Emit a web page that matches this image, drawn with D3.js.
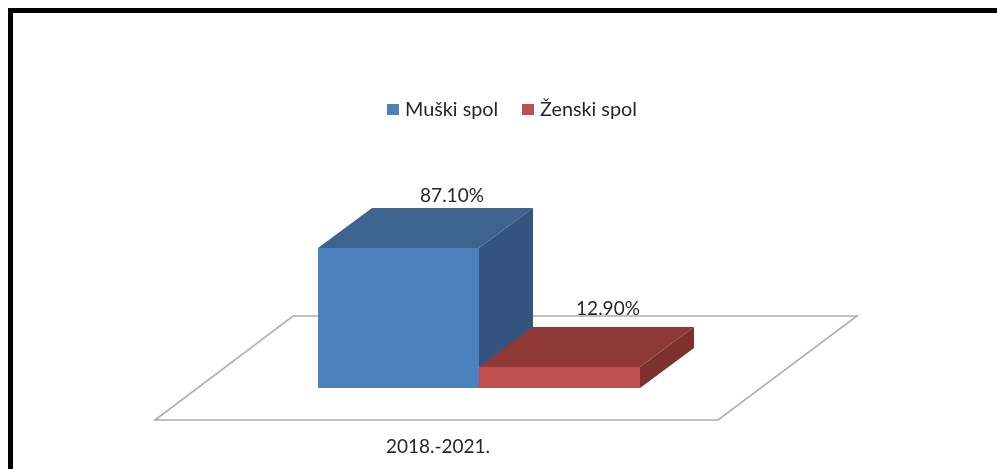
<!DOCTYPE html>
<html><head><meta charset="utf-8">
<script src="https://cdn.jsdelivr.net/npm/d3@7"></script>
<style>html,body{margin:0;padding:0;background:#fff;overflow:hidden}svg{display:block}text{font-family:Lato,"Open Sans",sans-serif;fill:#262626;filter:url(#soft)}</style>
</head><body><svg id="c" width="997" height="469"><defs><filter id="soft" x="-5%" y="-20%" width="110%" height="140%"><feGaussianBlur stdDeviation="0.4"/></filter></defs></svg>
<script>
const period = ["2018.-2021."];
const seriesNames = ["Muški spol", "Ženski spol"];
const seriesValues = [87.10, 12.90];
const valueLabels = ["87.10%", "12.90%"];
const frontColors = ["#4d81bd", "#c0504d"];
const topColors = ["#3d638e", "#8f3937"];
const sideColors = ["#32547e", "#7d302e"];

const svg = d3.select("#c");
const depthX = 54, depthY = 40;
const x = d3.scaleBand().domain(seriesNames).rangeRound([318, 640]).padding(0);
const y = d3.scaleLinear().domain([0, 100]).range([388, 227.3]).interpolate(d3.interpolateRound);
const poly = d3.line();

svg.append("path").attr("d", "M10.5,469V10.5H997").attr("fill","none").attr("stroke","#000").attr("stroke-width",5);

const floor = [[155,420],[718,420],[857,316],[293,316]];
svg.append("path").attr("d", poly(floor)+"Z").attr("fill","#fff").attr("stroke","#adadad").attr("stroke-width",1.6);

const labelX = [452, 608], labelY = [202, 315];
seriesNames.forEach((name,i)=>{
  const x0=x(name), x1=x0+x.bandwidth(), y0=y(0), yt=y(seriesValues[i]);
  const g=svg.append("g");
  g.append("path").attr("d",poly([[x1,y0],[x1+depthX,y0-depthY],[x1+depthX,yt-depthY],[x1,yt]])+"Z").attr("fill",sideColors[i]);
  g.append("path").attr("d",poly([[x0,yt],[x1,yt],[x1+depthX,yt-depthY],[x0+depthX,yt-depthY]])+"Z").attr("fill",topColors[i]);
  g.append("rect").attr("x",x0).attr("y",yt).attr("width",x.bandwidth()).attr("height",y0-yt).attr("fill",frontColors[i]);
  svg.append("text").attr("x",labelX[i]).attr("y",labelY[i]).attr("text-anchor","middle").attr("font-size",19).text(valueLabels[i]);
});

svg.append("text").attr("x",438).attr("y",453).attr("text-anchor","middle").attr("font-size",19).text(period[0]);

const legendBox=[387,522], legendText=[405,540];
seriesNames.forEach((name,i)=>{
  svg.append("rect").attr("x",legendBox[i]).attr("y",104).attr("width",12).attr("height",11).attr("fill",frontColors[i]);
  svg.append("text").attr("x",legendText[i]).attr("y",116).attr("font-size",19.8).text(name);
});
</script></body></html>
